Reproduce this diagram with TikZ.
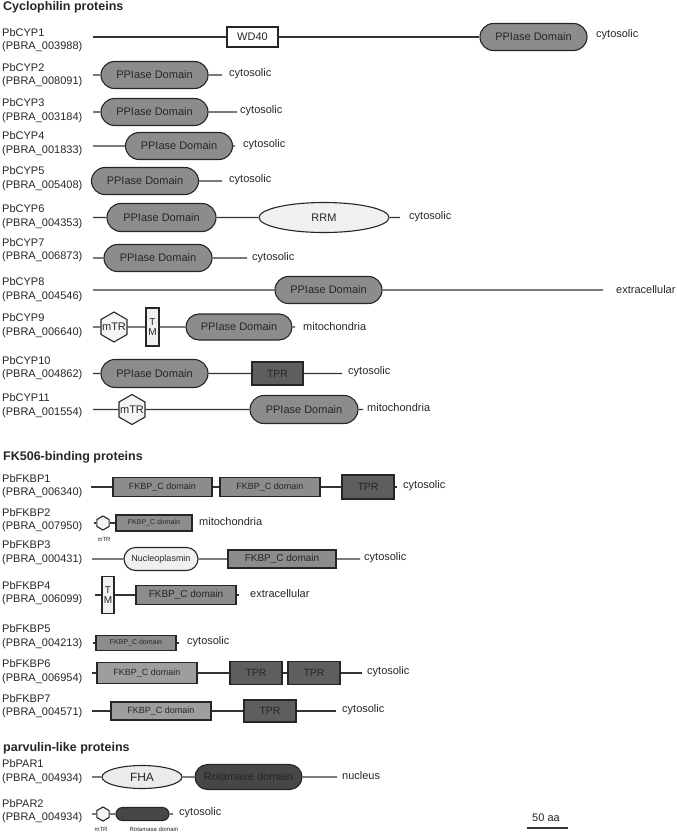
\documentclass[tikz,border=0pt]{standalone}
\usepackage{fontspec}
\setmainfont{Liberation Sans}
\usetikzlibrary{shapes.geometric, shapes.misc}

\begin{document}
\begin{tikzpicture}[x=1pt, y=-1pt,
	font=\fontsize{11}{13.5}\selectfont, text=black!85,
	bone/.style={draw=black!80, line width=1.1pt},
	dom/.style={draw=black!85, line width=1.1pt, inner sep=0},
	ppi/.style={dom, rounded rectangle, fill=black!45, minimum width=107, minimum height=27},
	fkbp/.style={dom, rectangle, fill=black!45, minimum width=100, minimum height=19, font=\fontsize{9}{10}\selectfont},
	tpr/.style={dom, rectangle, fill=black!63, minimum width=52, minimum height=23, font=\fontsize{10.5}{12}\selectfont},
	tm/.style={dom, rectangle, fill=black!6, minimum width=13, minimum height=38, align=center, font=\fontsize{10}{10.5}\selectfont},
	hex/.style={dom, regular polygon, regular polygon sides=6, shape border rotate=30, fill=black!4, minimum size=30},
	loc/.style={anchor=west, inner sep=0},
	lab/.style={anchor=west, align=left, inner sep=0},
	head/.style={anchor=west, inner sep=0, font=\bfseries\fontsize{12.5}{14}\selectfont},
	tiny/.style={inner sep=0, font=\fontsize{6}{7}\selectfont}]
	\useasboundingbox (0,0) rectangle (677,833);

	\node[head] (cyphead) at (3,7) {Cyclophilin proteins};
	\node[head] (fkbphead) at (3,457) {FK506-binding proteins};
	\node[head] (parhead) at (3,748) {parvulin-like proteins};

	\foreach \n/\id/\y in {CYP1/003988/40, CYP2/008091/75, CYP3/003184/110.5, CYP4/001833/143.5,
		CYP5/005408/178.5, CYP6/004353/216.5, CYP7/006873/250, CYP8/004546/289.5, CYP9/006640/325.5,
		CYP10/004862/368, CYP11/001554/405.5, FKBP1/006340/486, FKBP2/007950/520, FKBP3/000431/552.5,
		FKBP4/006099/593, FKBP5/004213/636.5, FKBP6/006954/671.5, FKBP7/004571/706,
		PAR1/004934/771.5, PAR2/004934/811} {
		\node[lab] (lab\n) at (2,\y) {Pb\n\\(PBRA\_\id)};
	}

	\coordinate (cyp1s) at (93,37);
	\node[dom, fill=white, minimum width=51, minimum height=20] (cyp1a) at (252.5,37) {WD40};
	\node[ppi] (cyp1b) at (533.5,37) {PPIase Domain};
	\node[loc] (cyp1loc) at (596,35) {cytosolic};
	\draw[bone] (cyp1s) -- (cyp1a) -- (cyp1b);

	\coordinate (cyp2s) at (93,75);
	\node[ppi] (cyp2a) at (154.5,75) {PPIase Domain};
	\coordinate (cyp2e) at (222,75);
	\node[loc] (cyp2loc) at (229,74) {cytosolic};
	\draw[bone] (cyp2s) -- (cyp2a) -- (cyp2e);

	\coordinate (cyp3s) at (93,112);
	\node[ppi] (cyp3a) at (154.5,112) {PPIase Domain};
	\coordinate (cyp3e) at (237,112);
	\node[loc] (cyp3loc) at (240,111) {cytosolic};
	\draw[bone] (cyp3s) -- (cyp3a) -- (cyp3e);

	\coordinate (cyp4s) at (93,146);
	\node[ppi] (cyp4a) at (179,146) {PPIase Domain};
	\coordinate (cyp4e) at (235,146);
	\node[loc] (cyp4loc) at (243,145) {cytosolic};
	\draw[bone] (cyp4s) -- (cyp4a) -- (cyp4e);

	\node[ppi] (cyp5a) at (145,181) {PPIase Domain};
	\coordinate (cyp5e) at (222,181);
	\node[loc] (cyp5loc) at (229,180) {cytosolic};
	\draw[bone] (cyp5a) -- (cyp5e);

	\coordinate (cyp6s) at (93,217.5);
	\node[ppi, minimum width=109, minimum height=28] (cyp6a) at (161.5,217.5) {PPIase Domain};
	\node[dom, ellipse, fill=black!6, minimum width=130, minimum height=30] (cyp6b) at (324,217.5) {RRM};
	\coordinate (cyp6e) at (400,217.5);
	\node[loc] (cyp6loc) at (409,216.5) {cytosolic};
	\draw[bone] (cyp6s) -- (cyp6a) -- (cyp6b) -- (cyp6e);

	\coordinate (cyp7s) at (93,258);
	\node[ppi, minimum width=108] (cyp7a) at (158,258) {PPIase Domain};
	\coordinate (cyp7e) at (247,258);
	\node[loc] (cyp7loc) at (252,258) {cytosolic};
	\draw[bone] (cyp7s) -- (cyp7a) -- (cyp7e);

	\coordinate (cyp8s) at (93,290);
	\node[ppi] (cyp8a) at (328.5,290) {PPIase Domain};
	\coordinate (cyp8e) at (603,290);
	\node[loc] (cyp8loc) at (616,289.5) {extracellular};
	\draw[bone] (cyp8s) -- (cyp8a) -- (cyp8e);

	\coordinate (cyp9s) at (93,327);
	\node[hex, label={center:mTR}] (cyp9a) at (114,327) {};
	\node[tm] (cyp9b) at (152.5,327) {T\\M};
	\node[ppi, minimum width=106, minimum height=26] (cyp9c) at (239,327) {PPIase Domain};
	\coordinate (cyp9e) at (295,327);
	\node[loc] (cyp9loc) at (303,326.5) {mitochondria};
	\draw[bone] (cyp9s) -- (cyp9a) -- (cyp9b) -- (cyp9c) -- (cyp9e);

	\coordinate (cyp10s) at (93,373.5);
	\node[ppi, minimum height=28] (cyp10a) at (154.5,373.5) {PPIase Domain};
	\node[tpr, minimum width=51] (cyp10b) at (277.5,373.5) {TPR};
	\coordinate (cyp10e) at (342,373.5);
	\node[loc] (cyp10loc) at (348,372) {cytosolic};
	\draw[bone] (cyp10s) -- (cyp10a) -- (cyp10b) -- (cyp10e);

	\coordinate (cyp11s) at (93,409.5);
	\node[hex, label={center:mTR}] (cyp11a) at (132,409.5) {};
	\node[ppi, minimum width=108, minimum height=28] (cyp11b) at (304,409.5) {PPIase Domain};
	\coordinate (cyp11e) at (363,409.5);
	\node[loc] (cyp11loc) at (367,408) {mitochondria};
	\draw[bone] (cyp11s) -- (cyp11a) -- (cyp11b) -- (cyp11e);

	\coordinate (fkbp1s) at (91,487);
	\node[fkbp, minimum width=99] (fkbp1a) at (162.5,487) {FKBP\_C domain};
	\node[fkbp] (fkbp1b) at (270,487) {FKBP\_C domain};
	\node[tpr, minimum height=24] (fkbp1c) at (368,487) {TPR};
	\coordinate (fkbp1e) at (397,487);
	\node[loc] (fkbp1loc) at (403,486) {cytosolic};
	\draw[bone] (fkbp1s) -- (fkbp1a) -- (fkbp1b) -- (fkbp1c) -- (fkbp1e);

	\coordinate (fkbp2s) at (94,523);
	\node[hex, minimum size=14] (fkbp2a) at (103,523) {};
	\node[tiny] (fkbp2t) at (104,539) {mTR};
	\node[fkbp, minimum width=76, minimum height=16, font=\fontsize{7}{8}\selectfont] (fkbp2b) at (154,523) {FKBP\_C domain};
	\node[loc] (fkbp2loc) at (199,522) {mitochondria};
	\draw[bone] (fkbp2s) -- (fkbp2a) -- (fkbp2b);

	\coordinate (fkbp3s) at (92,559);
	\node[dom, rounded rectangle, fill=black!6, minimum width=74, minimum height=23, font=\fontsize{9}{10}\selectfont] (fkbp3a) at (161,559) {Nucleoplasmin};
	\node[fkbp, minimum width=108, minimum height=18, font=\fontsize{10}{11}\selectfont] (fkbp3b) at (282,559) {FKBP\_C domain};
	\coordinate (fkbp3e) at (360,559);
	\node[loc] (fkbp3loc) at (364,558) {cytosolic};
	\draw[bone] (fkbp3s) -- (fkbp3a) -- (fkbp3b) -- (fkbp3e);

	\coordinate (fkbp4s) at (95,595);
	\node[tm, minimum width=12, minimum height=37] (fkbp4a) at (108,595) {T\\M};
	\node[fkbp, font=\fontsize{10}{11}\selectfont] (fkbp4b) at (186,595) {FKBP\_C domain};
	\coordinate (fkbp4e) at (239,595);
	\node[loc] (fkbp4loc) at (250,594) {extracellular};
	\draw[bone] (fkbp4s) -- (fkbp4a) -- (fkbp4b) -- (fkbp4e);

	\coordinate (fkbp5s) at (93,643);
	\node[fkbp, minimum width=80, minimum height=15, font=\fontsize{7}{8}\selectfont] (fkbp5a) at (136,643) {FKBP\_C domain};
	\coordinate (fkbp5e) at (179,643);
	\node[loc] (fkbp5loc) at (187,642) {cytosolic};
	\draw[bone] (fkbp5s) -- (fkbp5a) -- (fkbp5e);

	\coordinate (fkbp6s) at (92,673);
	\node[fkbp, fill=black!38, minimum height=21] (fkbp6a) at (147,673) {FKBP\_C domain};
	\node[tpr] (fkbp6b) at (256,673) {TPR};
	\node[tpr] (fkbp6c) at (314,673) {TPR};
	\coordinate (fkbp6e) at (362,673);
	\node[loc] (fkbp6loc) at (367,672) {cytosolic};
	\draw[bone] (fkbp6s) -- (fkbp6a) -- (fkbp6b) -- (fkbp6c) -- (fkbp6e);

	\coordinate (fkbp7s) at (92,711);
	\node[fkbp, fill=black!38, minimum height=18] (fkbp7a) at (161,711) {FKBP\_C domain};
	\node[tpr, minimum height=22] (fkbp7b) at (270,711) {TPR};
	\coordinate (fkbp7e) at (336,711);
	\node[loc] (fkbp7loc) at (342,710) {cytosolic};
	\draw[bone] (fkbp7s) -- (fkbp7a) -- (fkbp7b) -- (fkbp7e);

	\coordinate (par1s) at (92,777);
	\node[dom, ellipse, fill=black!8, minimum width=80, minimum height=23, font=\fontsize{12}{13}\selectfont] (par1a) at (142,777) {FHA};
	\node[ppi, fill=black!72, minimum height=25] (par1b) at (248.5,777) {Rotamase domain};
	\coordinate (par1e) at (337,777);
	\node[loc] (par1loc) at (342,776) {nucleus};
	\draw[bone] (par1s) -- (par1a) -- (par1b) -- (par1e);

	\coordinate (par2s) at (92,814);
	\node[hex, minimum size=14] (par2a) at (103,814) {};
	\node[ppi, fill=black!72, minimum width=53, minimum height=13] (par2b) at (142.5,814) {};
	\coordinate (par2e) at (173,814);
	\node[loc] (par2loc) at (179,813) {cytosolic};
	\node[tiny] (par2t) at (101,829) {mTR};
	\node[tiny] (par2u) at (154,829) {Rotamase domain};
	\draw[bone] (par2s) -- (par2a) -- (par2b) -- (par2e);

	\node[inner sep=0] (scale) at (546,818) {50 aa};
	\coordinate (scalel) at (527,828);
	\coordinate (scaler) at (568,828);
	\draw[bone] (scalel) -- (scaler);
\end{tikzpicture}
\end{document}
